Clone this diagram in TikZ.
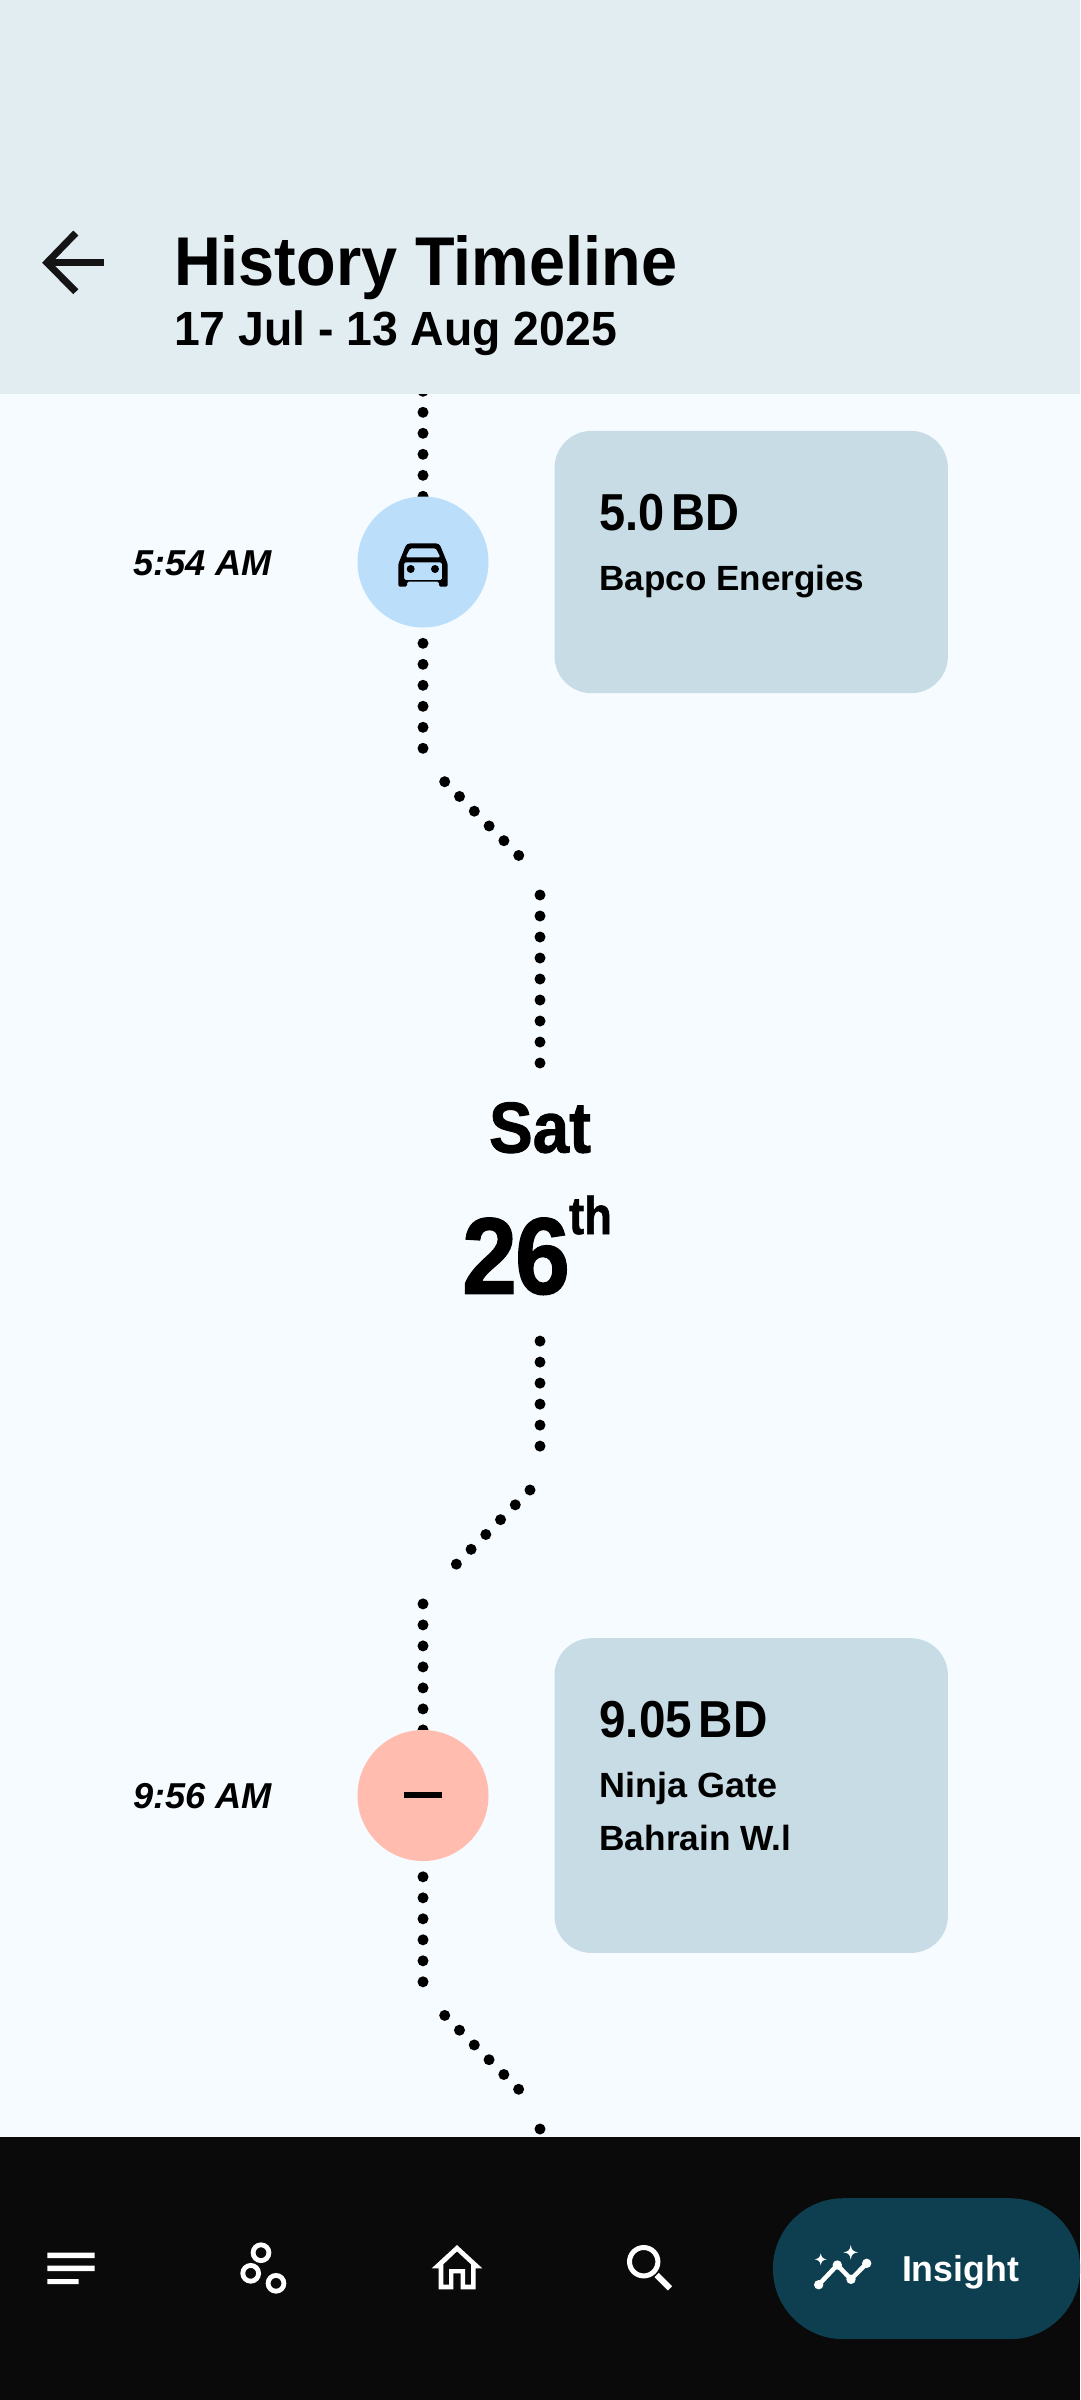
\documentclass[tikz,border=0pt]{standalone}
\usepackage{graphicx}
\usepackage{fontspec}
\setmainfont{Liberation Sans}
\newfontfamily\heavyfont[FakeBold=1.2]{Liberation Sans Bold}
\definecolor{pagebg}{HTML}{F5FBFE}
\definecolor{headbg}{HTML}{E2EDF2}
\definecolor{cardbg}{HTML}{C8DCE6}
\definecolor{bluedot}{HTML}{BBDEFB}
\definecolor{reddot}{HTML}{FFBCAF}
\definecolor{barbg}{HTML}{0A0A0A}
\definecolor{pillbg}{HTML}{0D3F50}
\newcommand{\tw}[3]{\resizebox{#1pt}{\height}{\fontsize{#2}{#2}\selectfont\bfseries #3}}
\newcommand{\twh}[3]{\resizebox{#1pt}{\height}{\fontsize{#2}{#2}\heavyfont #3}}
\tikzset{
  x=1pt,y=-1pt,
  lbl/.style={anchor=base west,inner sep=0pt,outer sep=0pt},
  cardbox/.style={rectangle,fill=cardbg,rounded corners=37pt,minimum width=393.4pt,inner sep=0pt,anchor=north west},
  bubble/.style={circle,minimum size=131pt,inner sep=0pt},
  dotline/.style={line width=11pt,line cap=round,dash pattern=on 0pt off 21pt,draw=black},
  dotdiag/.style={line width=11pt,line cap=round,dash pattern=on 0pt off 20.9pt,draw=black},
  icon/.style={draw=white,line width=5pt}
}
\begin{document}
\begin{tikzpicture}
\useasboundingbox (0,0) rectangle (1080,2400);
\fill[pagebg] (0,0) rectangle (1080,2400);
% cards
\node[cardbox,minimum height=262.3pt] (card1) at (554.3,430.7) {};
\node[cardbox,minimum height=314.7pt] (card2) at (554.3,1638) {};
% bubbles
\node[bubble] (c1) at (423,562) {};
\node[bubble] (c2) at (423,1795.5) {};
% dotted connectors
\coordinate (a1) at (423,391.3); \coordinate (a2) at (423,643.3); \coordinate (a3) at (423,748.4);
\coordinate (b1) at (444.7,781.7); \coordinate (b2) at (519,855.7);
\coordinate (d1) at (540,895); \coordinate (d2) at (540,1063.1);
\coordinate (e1) at (540,1341.1); \coordinate (e2) at (540,1446.5);
\coordinate (f1) at (530,1490); \coordinate (f2) at (456,1564.5);
\coordinate (g1) at (423,1603.9); \coordinate (g2) at (423,1876.8); \coordinate (g3) at (423,1982.1);
\coordinate (h1) at (444.7,2015.4); \coordinate (h2) at (519,2089.6);
\coordinate (i1) at (540,2129); \coordinate (i2) at (540,2152);
\draw[dotline] (a1) -- (c1.center);
\draw[dotline] (a2) -- (a3);
\draw[dotdiag] (b1) -- (b2);
\draw[dotline] (d1) -- (d2);
\draw[dotline] (e1) -- (e2);
\draw[dotdiag] (f1) -- (f2);
\draw[dotline] (g1) -- (c2.center);
\draw[dotline] (g2) -- (g3);
\draw[dotdiag] (h1) -- (h2);
\draw[dotline] (i1) -- (i2);
\node[bubble,fill=bluedot] at (c1) {};
\node[bubble,fill=reddot] at (c2) {};
% car icon
\fill[black,rounded corners=1.5pt,even odd rule]
  (398.3,586.7) -- (398.3,564) -- (406,545) -- (409,543.3) -- (437,543.3) -- (440,545) -- (447.7,564) -- (447.7,586.7) -- (439,586.7) -- (439,581.7) -- (407,581.7) -- (407,586.7) -- cycle
  (404,562.3) rectangle (442,580)
  (410,548.3) -- (436,548.3) -- (440.5,557.3) -- (405.5,557.3) -- cycle;
\fill[black] (410.7,569) circle[radius=4] (435,569) circle[radius=4];
% minus icon
\fill[black] (404,1792.4) rectangle (442,1798);
% header
\fill[headbg] (0,0) rectangle (1080,394);
\draw[black!92,line width=7pt,miter limit=10] (75.8,233) -- (47,262.7) -- (75.8,291.7);
\draw[black!92,line width=7pt] (49,262.7) -- (103.8,262.7);
\node[lbl] (title) at (174,286) {\tw{503}{69}{History Timeline}};
\node[lbl] (subtitle) at (174,345.7) {\tw{443}{48}{17 Jul - 13 Aug 2025}};
% times
\node[lbl] (time1) at (133,575) {\itshape\tw{139}{36}{\itshape 5:54 AM}};
\node[lbl] (time2) at (133,1808.5) {\itshape\tw{139}{36}{\itshape 9:56 AM}};
% card text
\node[lbl] (amt1) at (599.5,530) {\tw{140}{52}{5.0\hspace{-.13em} BD}};
\node[lbl] (name1) at (599.5,590.7) {\tw{265}{35}{Bapco Energies}};
\node[lbl] (amt2) at (599.5,1737.7) {\tw{168}{52}{9.05\hspace{-.14em} BD}};
\node[lbl] (name2a) at (599.5,1797) {\tw{178}{35}{Ninja Gate}};
\node[lbl] (name2b) at (599.5,1850.7) {\tw{192}{35}{Bahrain W.l}};
% date
\node[lbl] (sat) at (489,1152.5) {\twh{102}{72}{Sat}};
\node[lbl] (num) at (462,1293.8) {\twh{108}{109}{2\kern-.02em 6}};
\node[lbl] (th) at (569,1234) {\twh{43}{53}{th}};
% bottom bar
\fill[barbg] (0,2137) rectangle (1080,2400);
\fill[white] (47.3,2252.7) rectangle (94.7,2258)
             (47.3,2265.7) rectangle (94.7,2271)
             (47.3,2279) rectangle (78.7,2284);
\draw[icon,line width=4.8pt] (261,2252.7) circle[radius=7.9] (250.7,2273.3) circle[radius=7.9] (276,2283.3) circle[radius=7.9];
\fill[white,even odd rule]
  (457,2245) -- (482.3,2268.3) -- (475.7,2268.3) -- (475.7,2289.3) -- (460.7,2289.3) -- (460.7,2273.3) -- (453.3,2273.3) -- (453.3,2289.3) -- (438.7,2289.3) -- (438.7,2268.3) -- (431.7,2268.3) -- cycle
  (457,2251.3) -- (471,2264.3) -- (471,2284.7) -- (465,2284.7) -- (465,2269) -- (449,2269) -- (449,2284.7) -- (443.3,2284.7) -- (443.3,2264.3) -- cycle;
\draw[icon] (643.7,2261.7) circle[radius=14.2];
\draw[icon,line width=6pt] (656.7,2275) -- (670,2288.3);
% pill
\node[rectangle,fill=pillbg,rounded corners=70.5pt,minimum width=307.3pt,minimum height=141pt,inner sep=0pt,anchor=north west] (pill) at (772.7,2198) {};
\draw[white,line width=4.5pt,line join=round] (818.7,2284.7) -- (837.3,2265) -- (851,2279.3) -- (866.7,2263.3);
\fill[white] (818.7,2284.7) circle[radius=4.7] (837.3,2265) circle[radius=4.7] (851,2279.3) circle[radius=4.7] (866.7,2263.3) circle[radius=4.7];
\fill[white] (850.7,2245) .. controls (851.5,2250) and (853,2251.5) .. (858,2252.3) .. controls (853,2253) and (851.5,2254.5) .. (850.7,2259.6) .. controls (850,2254.5) and (848.5,2253) .. (843.4,2252.3) .. controls (848.5,2251.5) and (850,2250) .. cycle;
\fill[white] (820.7,2253.3) .. controls (821.2,2257) and (823,2258.8) .. (826.7,2259.3) .. controls (823,2259.8) and (821.2,2261.5) .. (820.7,2265.3) .. controls (820.2,2261.5) and (818.4,2259.8) .. (814.7,2259.3) .. controls (818.4,2258.8) and (820.2,2257) .. cycle;
\node[lbl,text=white] (insight) at (902,2281.7) {\tw{117}{36}{Insight}};
\end{tikzpicture}
\end{document}
